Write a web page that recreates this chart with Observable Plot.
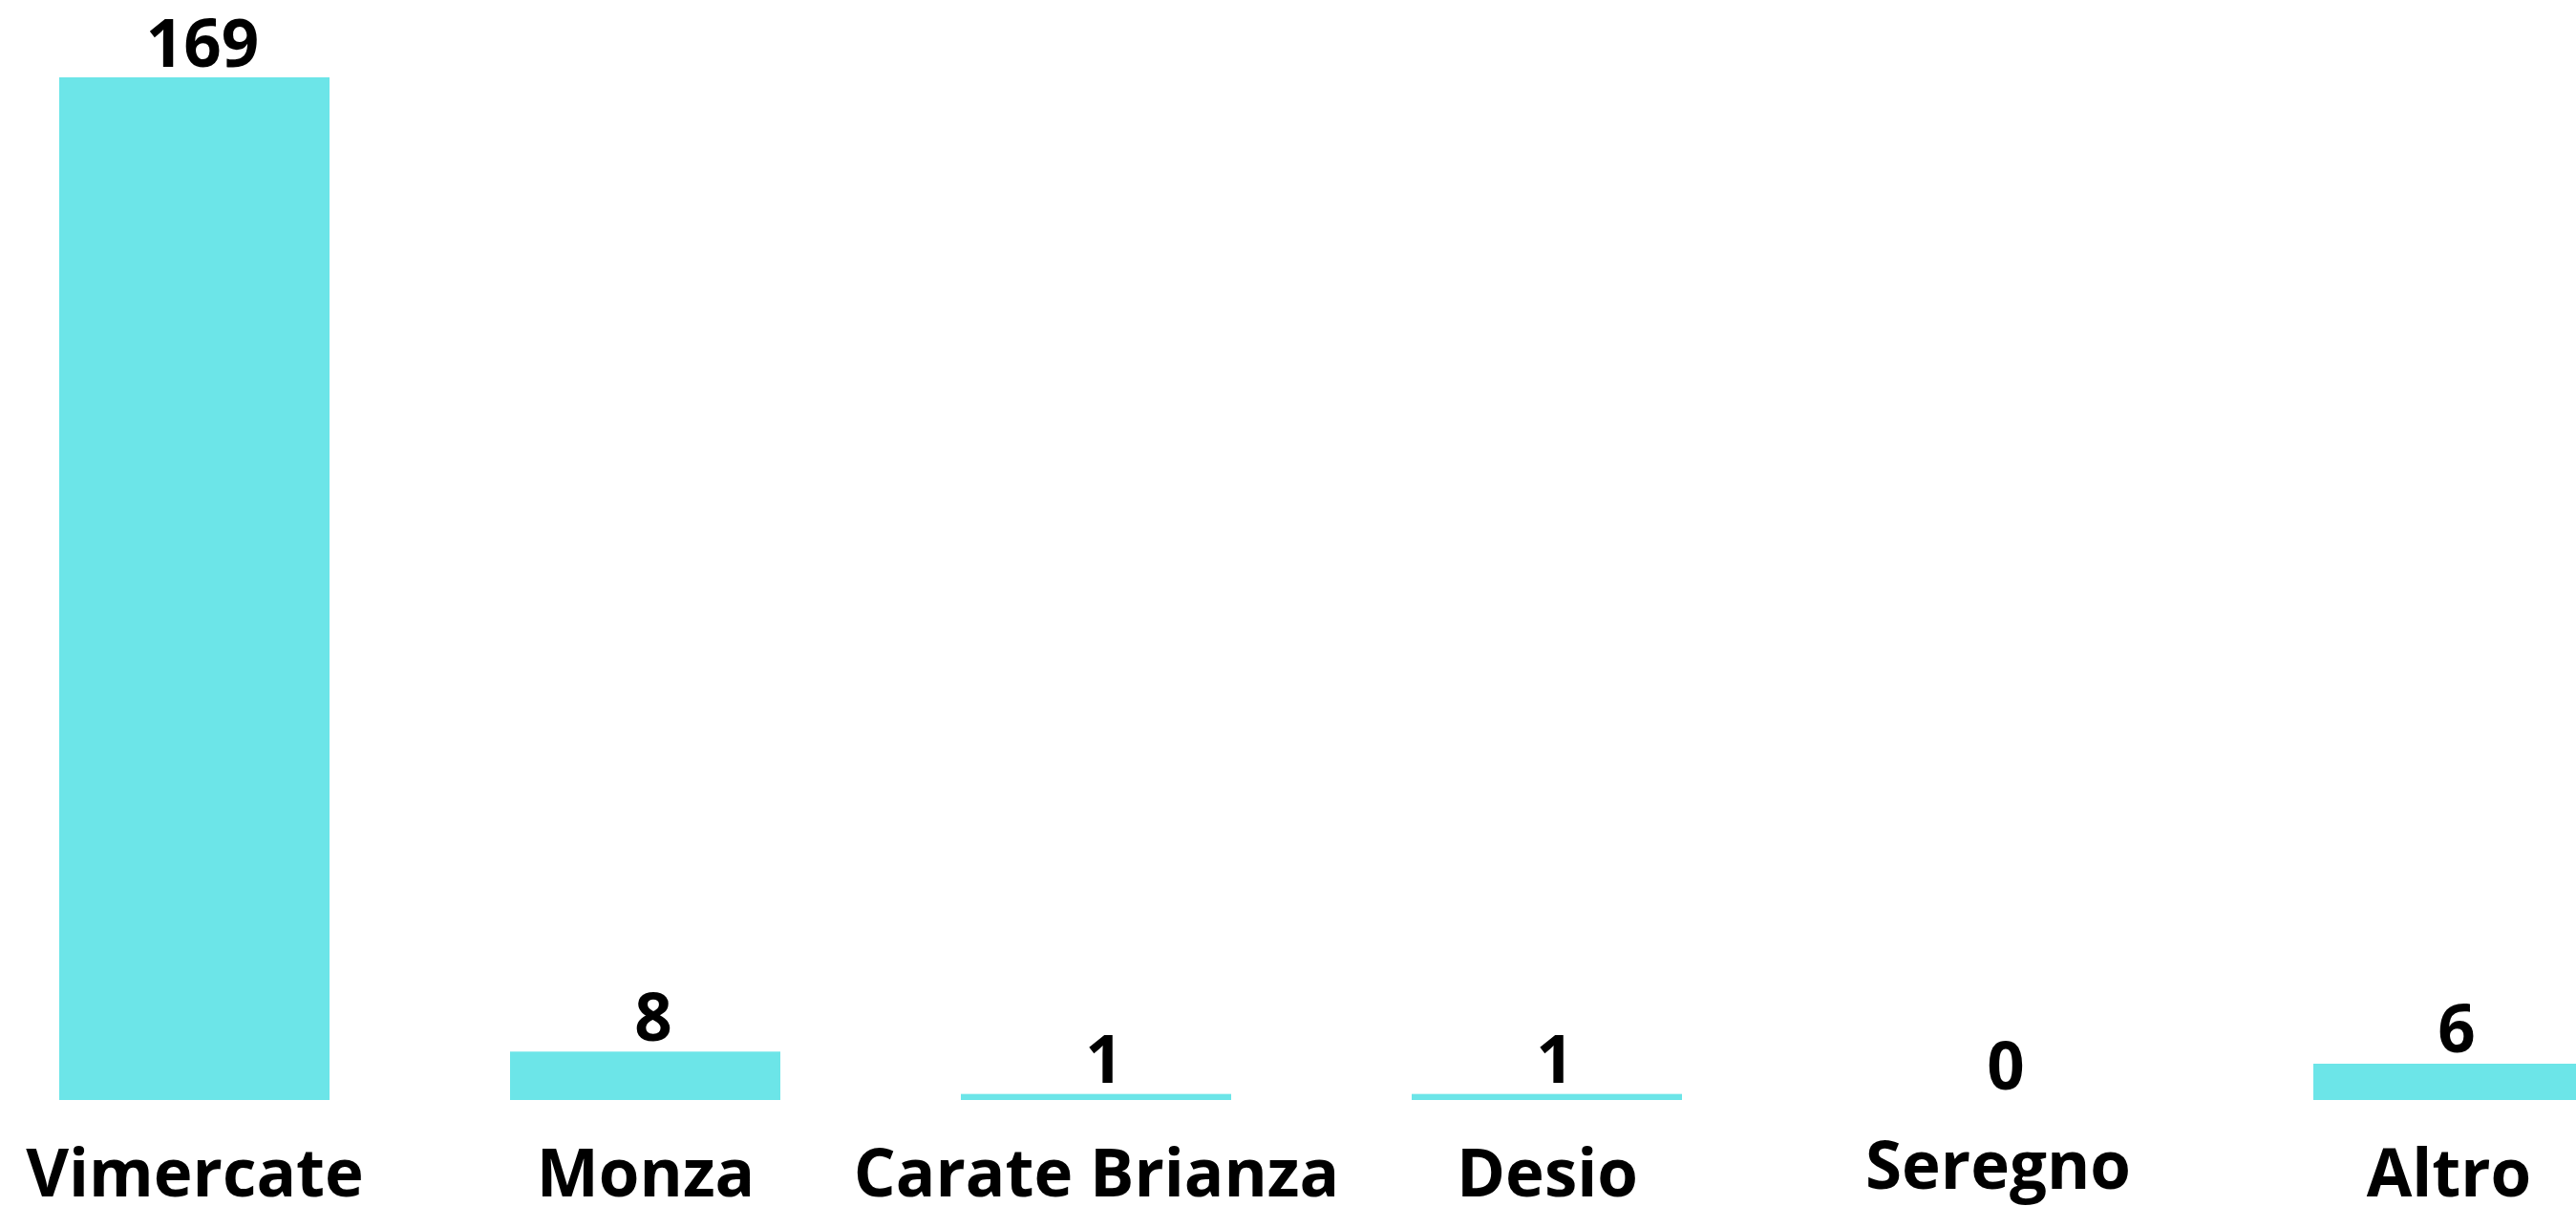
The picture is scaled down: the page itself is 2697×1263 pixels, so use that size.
<!DOCTYPE html>
<html><head><meta charset="utf-8">
<script src="https://cdn.jsdelivr.net/npm/d3@7"></script>
<script src="https://cdn.jsdelivr.net/npm/@observablehq/plot@0.6"></script>
<style>html,body{margin:0;padding:0;background:#fff;overflow:hidden}</style>
</head><body><div id="chart"></div>
<script>
const categories = ["Vimercate", "Monza", "Carate Brianza", "Desio", "Seregno", "Altro"];
const values = [169, 8, 1, 1, 0, 6];

const data = categories.map((c, i) => ({c, v: values[i]}));
const hasDesc = s => /[gjpqy]/.test(s);

const chart = Plot.plot({
  width: 2697, height: 1263,
  marginTop: 81, marginBottom: 111, marginLeft: 0, marginRight: 0,
  style: {fontFamily: "'Open Sans', sans-serif", background: "#fff", overflow: "visible"},
  x: {type: "band", domain: categories, range: [62, 2709], paddingInner: 0.4, paddingOuter: 0, align: 0},
  y: {domain: [0, 169], axis: null},
  marks: [
    Plot.barY(data, {x: "c", y: "v", fill: "#6CE5E8"}),
    Plot.text(data, {x: "c", y: "v", text: d => String(d.v), lineAnchor: "bottom", dy: -12, dx: 8,
      fontSize: 69, fontWeight: 700, fill: "#000"}),
    Plot.axisX({ticks: categories.filter(c => !hasDesc(c)), tickSize: 0, tickPadding: 51,
      fontSize: 69, fontWeight: 700, fill: "#000", label: null}),
    Plot.axisX({ticks: categories.filter(c => hasDesc(c)), tickSize: 0, tickPadding: 43,
      fontSize: 69, fontWeight: 700, fill: "#000", label: null})
  ]
});
document.getElementById("chart").append(chart);
</script>
</body></html>
